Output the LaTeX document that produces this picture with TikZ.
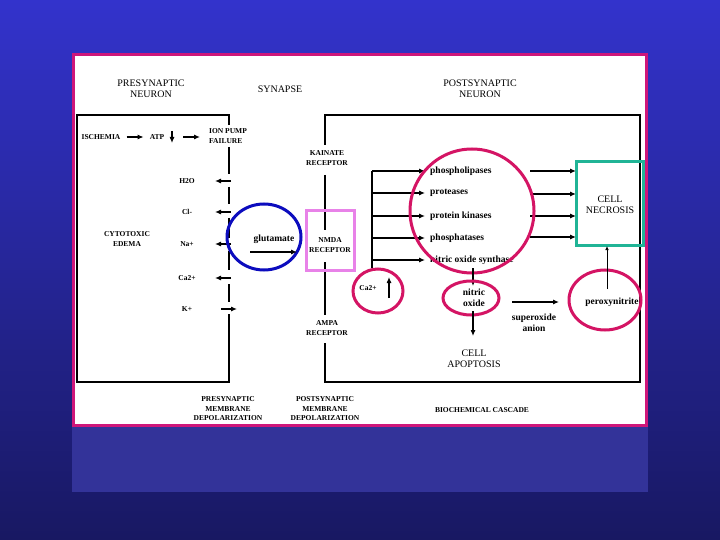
\documentclass[tikz,border=0pt]{standalone}
\usepackage{fontspec}
\setmainfont{Liberation Serif}
\usetikzlibrary{arrows.meta}

\definecolor{bgtop}{RGB}{51,51,204}
\definecolor{bgbot}{RGB}{24,24,98}
\definecolor{bandblue}{RGB}{51,51,153}
\definecolor{panelbd}{RGB}{206,22,122}
\definecolor{glublue}{RGB}{12,12,190}
\definecolor{nmdapink}{RGB}{232,130,232}
\definecolor{necteal}{RGB}{32,180,150}
\definecolor{ringred}{RGB}{212,20,100}

\begin{document}
\begin{tikzpicture}[x=1pt,y=-1pt,
  head/.style={font=\fontsize{10}{11}\selectfont, align=center, inner sep=0pt},
  lbl/.style={font=\fontsize{7.5}{9.5}\selectfont\bfseries, align=center, inner sep=0pt},
  enz/.style={font=\fontsize{9.5}{11}\selectfont\bfseries, align=center, inner sep=0pt},
  ar/.style={-{Latex[length=6pt,width=5pt]}, line width=1.1pt},
  wall/.style={line width=1.1pt},
  ring/.style={line width=3pt}]
\useasboundingbox (0,0) rectangle (720,540);
% Background
\shade[top color=bgtop, bottom color=bgbot] (0,0) rectangle (720,540);
\fill[bandblue] (72,425) rectangle (648,492);
\draw[fill=white, draw=panelbd, line width=3pt] (73.5,54.5) rectangle (646.5,425.5);
%
% Headings
\node[head] (preHead) at (151,89) {PRESYNAPTIC\\NEURON};
\node[head] (synHead) at (280,89) {SYNAPSE};
\node[head] (postHead) at (480,89) {POSTSYNAPTIC\\NEURON};
%
% Presynaptic neuron
\draw[wall] (229,125) -- (229,115) -- (77,115) -- (77,382) -- (229,382) -- (229,314);
\foreach \ya/\yb in {147/174, 187/204, 218/238, 251/270, 284/302}
  \draw[wall] (229,\ya) -- (229,\yb);
\node[lbl] (isch) at (101,137) {ISCHEMIA};
\node[lbl] (atp) at (157,137) {ATP};
\node[lbl, anchor=west, align=left] (pump) at (209,136) {ION PUMP\\FAILURE};
\draw[ar] (isch.east) ++(6,0) -- ++(17,0);
\draw[ar] (172,131) -- (172,143);
\draw[ar] (183,137) -- (200,137);
\node[lbl] (edema) at (127,239) {CYTOTOXIC\\EDEMA};
\foreach \y/\ion [count=\i] in {181/H2O, 212/Cl-, 244/Na+, 278/Ca2+}{
  \node[lbl] (ion\i) at (187,\y) {\ion};
  \draw[ar] (231,\y) -- (215,\y);
}
\node[lbl] (ionK) at (187,309) {K+};
\draw[ar] (221,309) -- (237,309);
%
% Glutamate and receptors
\draw[ring, glublue] (264,237) ellipse [x radius=37pt, y radius=33pt];
\node[enz] (glu) at (274,239) {glutamate};
\draw[ar] (250,252) -- (297,252);
\draw[wall] (325,145) -- (325,115) -- (640,115) -- (640,382) -- (325,382) -- (325,343);
\draw[wall] (325,175) -- (325,230);
\draw[wall] (325,262) -- (325,315);
\node[lbl] (kain) at (327,158) {KAINATE\\RECEPTOR};
\draw[ring, nmdapink] (306,211) rectangle (354,270);
\node[lbl] (nmda) at (330,245) {NMDA\\RECEPTOR};
\node[lbl] (ampa) at (327,328) {AMPA\\RECEPTOR};
%
% Biochemical cascade
\draw[wall] (372,268) -- (372,171);
\foreach \y/\enzyme [count=\i] in {171/phospholipases, 193/proteases, 216/protein kinases, 238/phosphatases, 260/nitric oxide synthase}{
  \draw[ar] (372,\y) -- (425,\y);
  \node[enz, anchor=west] (enz\i) at (430,\y) {\enzyme};
}
\foreach \y in {171,194,216,237}
  \draw[ar] (530,\y) -- (576,\y);
\draw[ring, ringred] (472,211) circle [radius=62pt];
\draw[ring, necteal] (576,162) rectangle (643,245);
\node[head] (necro) at (610,205) {CELL\\NECROSIS};
%
\draw[ring, ringred] (378,291) ellipse [x radius=25pt, y radius=22pt];
\node[lbl] (caIn) at (368,288) {Ca2+};
\draw[ar] (389,298) -- (389,277);
%
\draw[ar] (473,268) -- (473,286);
\draw[ring, ringred] (471,298) ellipse [x radius=28pt, y radius=17pt];
\node[enz] (no) at (474,298) {nitric\\oxide};
\draw[ar] (473,311) -- (473,336);
\node[head] (apop) at (474,359) {CELL\\APOPTOSIS};
\draw[ar] (512,302) -- (559,302);
\node[enz] (superox) at (534,323) {superoxide\\anion};
\draw[ring, ringred] (605,300) ellipse [x radius=36pt, y radius=30pt];
\node[enz] (perox) at (612,302) {peroxynitrite};
\draw[-{Latex[length=4pt,width=3.5pt]}, line width=0.7pt] (607,289) -- (607,246);
%
% Bottom captions
\node[lbl] (preDep) at (228,409) {PRESYNAPTIC\\MEMBRANE\\DEPOLARIZATION};
\node[lbl] (postDep) at (325,409) {POSTSYNAPTIC\\MEMBRANE\\DEPOLARIZATION};
\node[lbl] (cascade) at (482,410) {BIOCHEMICAL CASCADE};
\end{tikzpicture}
\end{document}
